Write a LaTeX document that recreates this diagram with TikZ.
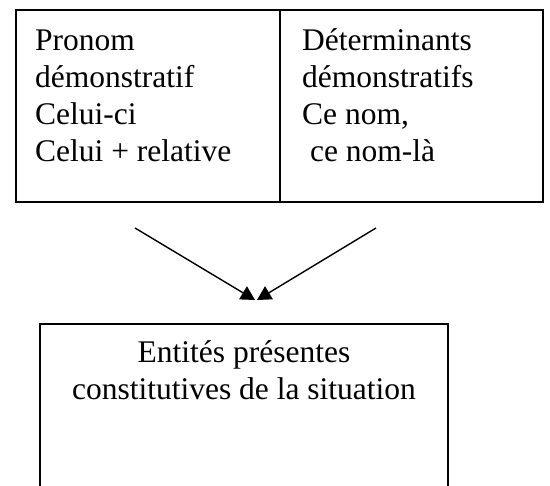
\documentclass[tikz,border=0pt]{standalone}
\usepackage{fontspec}
\setmainfont{Liberation Serif}
\usetikzlibrary{arrows.meta}
\begin{document}
\begin{tikzpicture}[x=1pt,y=-1pt,
  boxline/.style={line width=1.6pt},
  celltext/.style={anchor=base west,inner sep=0pt,align=left,
    font=\fontsize{31.5pt}{37pt}\selectfont},
  midtext/.style={anchor=base,inner sep=0pt,align=center,
    font=\fontsize{31.5pt}{37pt}\selectfont},
  arr/.style={line width=1.4pt,-{Triangle[length=14pt,width=15pt]}}]
\useasboundingbox (0,0) rectangle (550,486);
% top box: two cells
\draw[boxline] (16,10) rectangle (543,202);
\draw[boxline] (280,10) -- (280,202);
\node[celltext] (left) at (35,162) {Pronom\\démonstratif\\Celui-ci\\Celui + relative};
\node[celltext] (right) at (302,162) {Déterminants\\démonstratifs\\Ce nom,\\\ ce nom-là};
% arrows
\coordinate (s1) at (135,228);
\coordinate (e1) at (255,300);
\coordinate (s2) at (376,228);
\coordinate (e2) at (257,300);
\draw[arr] (s1) -- (e1);
\draw[arr] (s2) -- (e2);
% bottom open box
\draw[boxline] (40,486) -- (40,324) -- (448,324) -- (448,486);
\node[midtext] (bottom) at (244,400) {Entités présentes\\constitutives de la situation};
\end{tikzpicture}
\end{document}
